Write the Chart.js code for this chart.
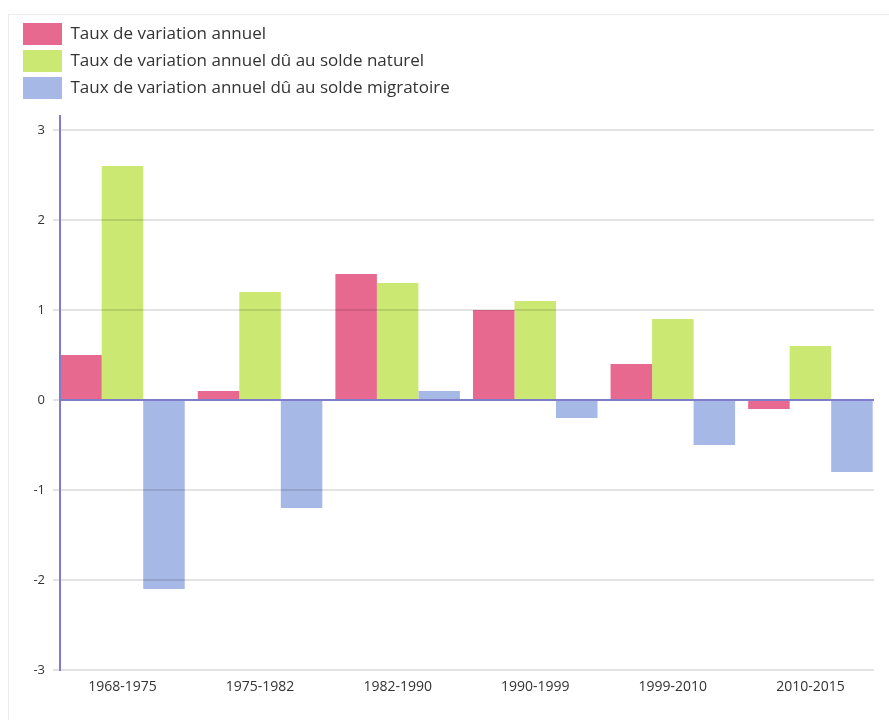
<!DOCTYPE html>
<html>
<head>
<meta charset="utf-8">
<script src="https://cdn.jsdelivr.net/npm/chart.js@4.4.1/dist/chart.umd.min.js"></script>
<style>
  html, body { margin: 0; padding: 0; background: #ffffff; overflow: hidden; }
  #frame { position: absolute; left: 8px; top: 14px; width: 900px; height: 720px; border: 1px solid #ececec; box-sizing: border-box; }
  #wrap { position: absolute; left: 0; top: 0; width: 889px; height: 720px; }
</style>
</head>
<body>
<div id="frame"></div>
<div id="wrap"><canvas id="c" width="889" height="720"></canvas></div>
<script>
const categories = ['1968-1975', '1975-1982', '1982-1990', '1990-1999', '1999-2010', '2010-2015'];
const seriesNames = [
  'Taux de variation annuel',
  'Taux de variation annuel dû au solde naturel',
  'Taux de variation annuel dû au solde migratoire'
];
const totalRate = [0.5, 0.1, 1.4, 1.0, 0.4, -0.1];
const naturalRate = [2.6, 1.2, 1.3, 1.1, 0.9, 0.6];
const migratoryRate = [-2.1, -1.2, 0.1, -0.2, -0.5, -0.8];
const yTicks = [-3, -2, -1, 0, 1, 2, 3];

const colors = ['#e8698f', '#cbe873', '#a6b8e6'];
const toPoints = arr => arr.map((v, i) => ({ x: i, y: v }));

const legendSpacer = {
  id: 'legendSpacer',
  afterInit(chart) {
    const lg = chart.legend;
    if (lg && !lg._patched) {
      const f = lg.fit;
      lg.fit = function () { f.call(this); if (this.options.display) this.height += 7; };
      lg._patched = true;
    }
  }
};

new Chart(document.getElementById('c'), {
  type: 'bar',
  data: {
    datasets: [
      { label: seriesNames[0], data: toPoints(totalRate), backgroundColor: colors[0] },
      { label: seriesNames[1], data: toPoints(naturalRate), backgroundColor: colors[1] },
      { label: seriesNames[2], data: toPoints(migratoryRate), backgroundColor: colors[2] }
    ]
  },
  plugins: [legendSpacer],
  options: {
    responsive: false,
    animation: false,
    categoryPercentage: 0.905,
    barPercentage: 1,
    layout: { padding: { left: 18, top: 18, right: 15, bottom: 0 } },
    plugins: {
      tooltip: { enabled: false },
      legend: {
        position: 'top',
        align: 'start',
        labels: {
          boxWidth: 39,
          boxHeight: 22,
          padding: 5,
          color: '#333333',
          font: { family: 'Open Sans', size: 17 },
          generateLabels: chart => Chart.defaults.plugins.legend.labels.generateLabels(chart)
            .map(l => Object.assign(l, { text: l.text + ' '.repeat(140), lineWidth: 0 }))
        }
      }
    },
    scales: {
      x: {
        type: 'linear',
        min: -0.454,
        max: 5.462,
        offset: false,
        grid: { display: false, drawTicks: false },
        border: { display: false },
        ticks: {
          stepSize: 1,
          includeBounds: false,
          autoSkip: false,
          maxRotation: 0,
          padding: 9,
          color: '#333333',
          font: { family: 'Open Sans', size: 14 },
          callback: v => categories[v] !== undefined ? categories[v] : ''
        },
        afterFit: s => { s.height = 50; }
      },
      y: {
        min: -3,
        max: 3.155,
        afterBuildTicks: s => { s.ticks = yTicks.map(v => ({ value: v })); },
        grid: {
          z: 1,
          lineWidth: 2,
          drawTicks: true,
          tickLength: 7,
          tickColor: 'rgba(0,0,0,0.11)',
          color: c => (c.tick && c.tick.value === 0) ? '#7d7dcc' : 'rgba(0,0,0,0.11)'
        },
        border: { display: true, color: '#7d7dcc', width: 2, z: 1 },
        ticks: {
          padding: 8,
          color: '#333333',
          font: { family: 'Open Sans', size: 13 }
        },
        afterFit: s => { s.width = 42; }
      }
    }
  }
});
</script>
</body>
</html>
